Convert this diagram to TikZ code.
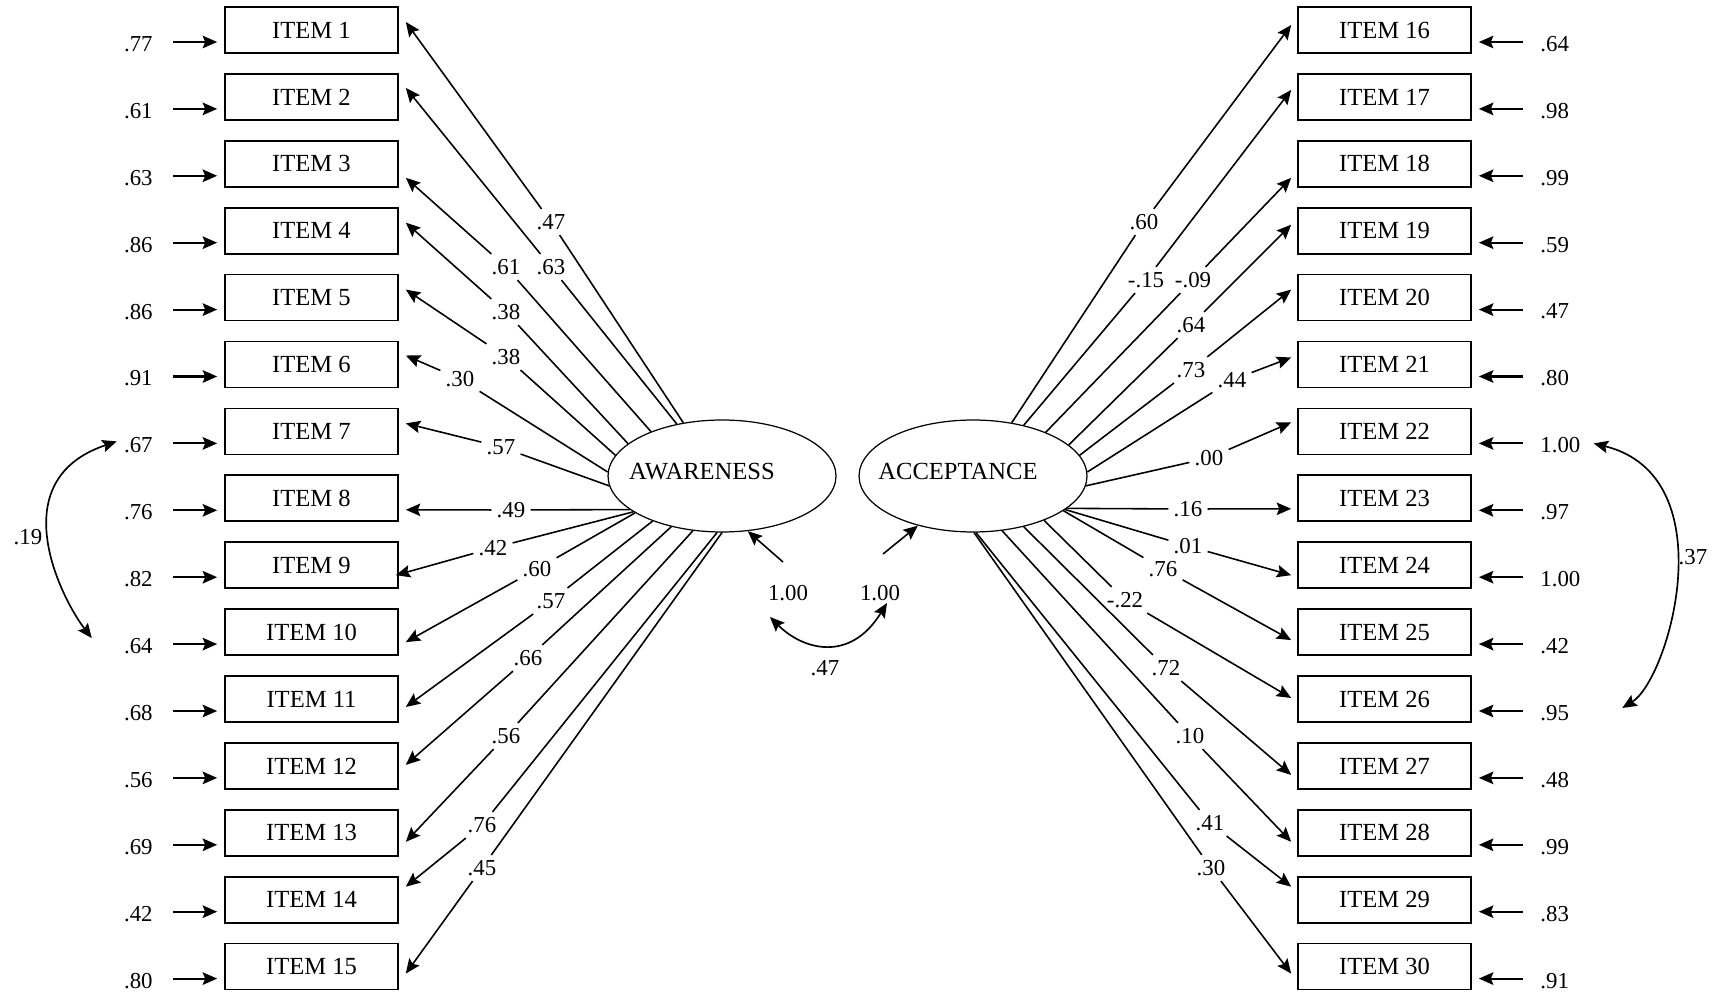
\documentclass[tikz,border=0pt]{standalone}
\usepackage{fontspec}
\setmainfont{Liberation Serif}
\usetikzlibrary{arrows.meta,shapes.geometric}
\begin{document}
\begin{tikzpicture}[x=0.02cm, y=-0.02cm,
  itembox/.style={draw, line width=0.95pt, minimum width=3.46cm, minimum height=0.92cm,
    inner sep=0pt, font=\fontsize{14}{16}\selectfont},
  latent/.style={draw, ellipse, line width=0.7pt, minimum width=4.56cm,
    minimum height=2.24cm, inner sep=0pt, font=\fontsize{14}{16}\selectfont},
  num/.style={inner sep=0.1cm, font=\fontsize{13}{15}\selectfont},
  headtip/.style={-{Stealth[length=0.29cm,width=0.25cm,inset=0.05cm]}},
  loadline/.style={line width=0.9pt},
  errarrow/.style={line width=1.2pt, headtip},
  covline/.style={line width=0.95pt,
    {Stealth[length=0.29cm,width=0.25cm,inset=0.05cm]}-{Stealth[length=0.29cm,width=0.25cm,inset=0.05cm]}},
]
\useasboundingbox (0,0) rectangle (1717,996);

% observed items
\foreach \k in {1,...,15}{
  \pgfmathsetmacro\cy{30+66.9*(\k-1)}
  \node[itembox] (i\k) at (311.5,\cy) {ITEM \k};
}
\foreach \k in {16,...,30}{
  \pgfmathsetmacro\cy{30+66.9*(\k-16)}
  \node[itembox] (i\k) at (1384.5,\cy) {ITEM \k};
}

% error terms
\foreach \v [count=\k] in {.77,.61,.63,.86,.86,.91,.67,.76,.82,.64,.68,.56,.69,.42,.80}{
  \pgfmathsetmacro\cy{44+66.9*(\k-1)}
  \node[num, anchor=east] (e\k) at (158,\cy) {\v};
  \draw[errarrow] ([shift={(15,-2)}]e\k.east) -- ([shift={(-7,12)}]i\k.west);
}
\foreach \v [count=\k from 16] in {.64,.98,.99,.59,.47,.80,1.00,.97,1.00,.42,.95,.48,.99,.83,.91}{
  \pgfmathsetmacro\cy{44+66.9*(\k-16)}
  \node[num, anchor=west] (e\k) at (1535,\cy) {\v};
  \draw[errarrow] ([shift={(-12,-2)}]e\k.west) -- ([shift={(7,12)}]i\k.east);
}

% latent factors
\node[latent] (aw) at (722,476) {\raisebox{-0.08cm}[0pt][0pt]{\makebox[0pt]{AWARENESS\hspace{0.8cm}}}};
\node[latent] (ac) at (973,476) {\raisebox{-0.08cm}[0pt][0pt]{\makebox[0pt]{ACCEPTANCE\hspace{0.6cm}}}};

% loadings on AWARENESS
\foreach \a/\lx/\ly/\dx/\dy/\v [count=\k] in {
  126/551/222/7/-8/.47, 131/551/267/7/-9/.63, 148/506/267/7/14/.61,
  161/506/312/7/-8/.38, 169/506/357/7/-8/.38, 178/460/379/7/-9/.30,
  185/501/447/7/-8/.57, 200/511/510/7/11.5/.49, 202/493/548/-3/10/.42,
  203/537/569/7/10/.60, 213/551/601/7/8/.57, 225/528/658/7/-1/.66,
  242/506/736/7/9/.56, 265/482/825/7/-13/.76, 270/482/868/7/7/.45}{
  \node[num] (l\k) at (\lx,\ly) {\v};
  \draw[loadline] (aw.\a) -- (l\k);
  \draw[loadline, headtip] (l\k) -- ([shift={(\dx,\dy)}]i\k.east);
}

% loadings on ACCEPTANCE
\foreach \a/\lx/\ly/\dx/\dy/\v [count=\k from 16] in {
  54/1144/222/-6/-5/.60, 45/1146/280/-6/-7/-.15, 31/1193/280/-6/14/-.09,
  18/1191/325/-6/-6/.64, 11/1191/370/-6/-8/.73, 2/1232/380/-6/-7/.44,
  355/1209/458/-6/-9/.00, 341/1188/509/-6/10.5/.16, 340/1188/546/-6/10/.01,
  339/1163/569/-6/8/.76, 328/1125/600/-6/-1/-.22, 315/1166/668/-6/9/.72,
  298/1190/736/-6/9/.10, 273/1210/823/-6/-13/.41, 271/1211/868/-6/7/.30}{
  \node[num] (l\k) at (\lx,\ly) {\v};
  \draw[loadline] (ac.\a) -- (l\k);
  \draw[loadline, headtip] (l\k) -- ([shift={(\dx,\dy)}]i\k.west);
}

% factor variances and covariance
\node[num] (v1) at (788,593) {1.00};
\node[num] (v2) at (880,593) {1.00};
\draw[loadline, headtip] ([shift={(-5,-31)}]v1.center) -- (aw.295);
\draw[loadline, headtip] ([shift={(3,-39)}]v2.center) -- (ac.222);
\draw[covline] ([shift={(-18,24)}]v1.center) .. controls +(33,33) and +(-37,60) .. ([shift={(7,10)}]v2.center);
\node[num] (r12) at (825,668) {.47};

% correlated errors
\draw[covline] ([shift={(-2,-4)}]e7.west) .. controls +(-116,39) and +(-30,-39) .. ([shift={(-27,-8)}]e10.west);
\node[num] (c1) at (28,537) {.19};
\draw[covline] ([shift={(8,-2)}]e22.east) .. controls +(133,33) and +(47,-29) .. ([shift={(48,-5)}]e26.east);
\node[num] (c2) at (1693,557) {.37};
\end{tikzpicture}
\end{document}
